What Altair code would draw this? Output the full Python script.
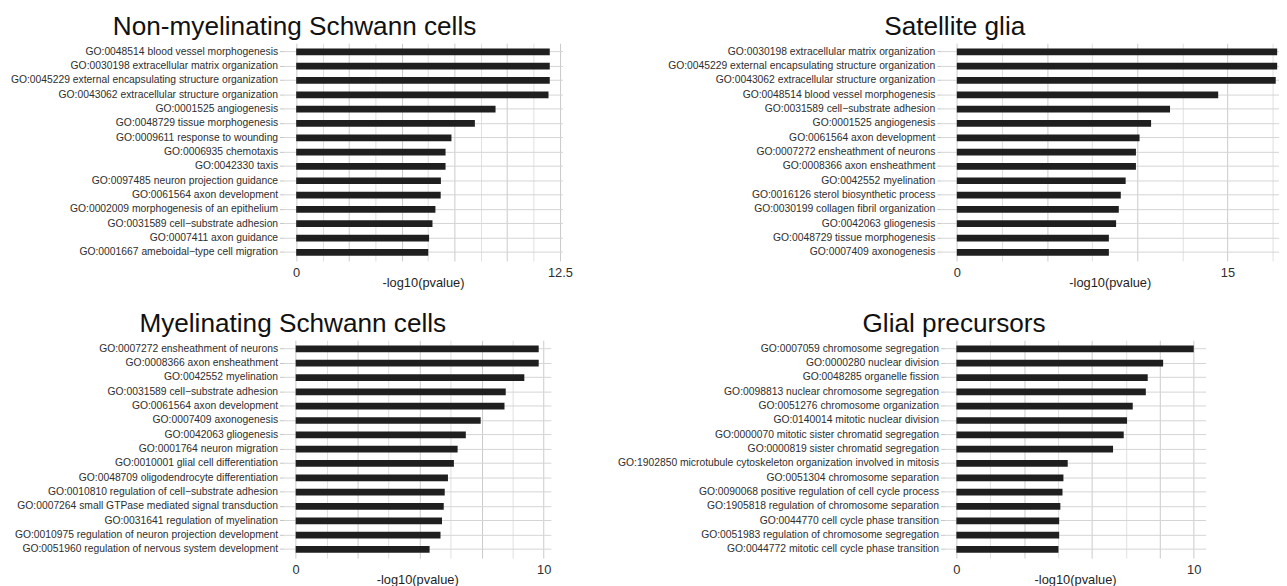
import altair as alt
import pandas as pd

FONT = "Liberation Sans"

# ---------------- data ----------------
nm_title = "Non-myelinating Schwann cells"
nm_terms = [
    "GO:0048514 blood vessel morphogenesis",
    "GO:0030198 extracellular matrix organization",
    "GO:0045229 external encapsulating structure organization",
    "GO:0043062 extracellular structure organization",
    "GO:0001525 angiogenesis",
    "GO:0048729 tissue morphogenesis",
    "GO:0009611 response to wounding",
    "GO:0006935 chemotaxis",
    "GO:0042330 taxis",
    "GO:0097485 neuron projection guidance",
    "GO:0061564 axon development",
    "GO:0002009 morphogenesis of an epithelium",
    "GO:0031589 cell\u2212substrate adhesion",
    "GO:0007411 axon guidance",
    "GO:0001667 ameboidal\u2212type cell migration",
]
nm_values = [12.02, 12.02, 12.02, 11.96, 9.45, 8.47, 7.36, 7.08, 7.08, 6.86, 6.85, 6.60, 6.46, 6.30, 6.26]
nm_ticks = [0, 12.5]
nm_tick_labels = ["0", "12.5"]

sg_title = "Satellite glia"
sg_terms = [
    "GO:0030198 extracellular matrix organization",
    "GO:0045229 external encapsulating structure organization",
    "GO:0043062 extracellular structure organization",
    "GO:0048514 blood vessel morphogenesis",
    "GO:0031589 cell\u2212substrate adhesion",
    "GO:0001525 angiogenesis",
    "GO:0061564 axon development",
    "GO:0007272 ensheathment of neurons",
    "GO:0008366 axon ensheathment",
    "GO:0042552 myelination",
    "GO:0016126 sterol biosynthetic process",
    "GO:0030199 collagen fibril organization",
    "GO:0042063 gliogenesis",
    "GO:0048729 tissue morphogenesis",
    "GO:0007409 axonogenesis",
]
sg_values = [17.76, 17.76, 17.68, 14.49, 11.82, 10.77, 10.13, 9.93, 9.93, 9.36, 9.09, 8.98, 8.83, 8.43, 8.43]
sg_ticks = [0, 15]
sg_tick_labels = ["0", "15"]

ms_title = "Myelinating Schwann cells"
ms_terms = [
    "GO:0007272 ensheathment of neurons",
    "GO:0008366 axon ensheathment",
    "GO:0042552 myelination",
    "GO:0031589 cell\u2212substrate adhesion",
    "GO:0061564 axon development",
    "GO:0007409 axonogenesis",
    "GO:0042063 gliogenesis",
    "GO:0001764 neuron migration",
    "GO:0010001 glial cell differentiation",
    "GO:0048709 oligodendrocyte differentiation",
    "GO:0010810 regulation of cell\u2212substrate adhesion",
    "GO:0007264 small GTPase mediated signal transduction",
    "GO:0031641 regulation of myelination",
    "GO:0010975 regulation of neuron projection development",
    "GO:0051960 regulation of nervous system development",
]
ms_values = [9.80, 9.80, 9.22, 8.47, 8.42, 7.46, 6.86, 6.53, 6.38, 6.14, 6.01, 5.97, 5.90, 5.84, 5.40]
ms_ticks = [0, 10]
ms_tick_labels = ["0", "10"]

gp_title = "Glial precursors"
gp_terms = [
    "GO:0007059 chromosome segregation",
    "GO:0000280 nuclear division",
    "GO:0048285 organelle fission",
    "GO:0098813 nuclear chromosome segregation",
    "GO:0051276 chromosome organization",
    "GO:0140014 mitotic nuclear division",
    "GO:0000070 mitotic sister chromatid segregation",
    "GO:0000819 sister chromatid segregation",
    "GO:1902850 microtubule cytoskeleton organization involved in mitosis",
    "GO:0051304 chromosome separation",
    "GO:0090068 positive regulation of cell cycle process",
    "GO:1905818 regulation of chromosome separation",
    "GO:0044770 cell cycle phase transition",
    "GO:0051983 regulation of chromosome segregation",
    "GO:0044772 mitotic cell cycle phase transition",
]
gp_values = [10.0, 8.71, 8.06, 7.98, 7.43, 7.19, 7.05, 6.60, 4.69, 4.51, 4.47, 4.38, 4.33, 4.33, 4.30]
gp_ticks = [0, 10]
gp_tick_labels = ["0", "10"]

# gridline positions (style)
nm_grid = [0, 1.25, 2.5, 3.75, 5, 6.25, 7.5, 8.75, 10, 11.25, 12.5]
nm_major = [0, 2.5, 5, 7.5, 10, 12.5]
sg_grid = [0, 2.5, 5, 7.5, 10, 12.5, 15, 17.5]
sg_major = [0, 5, 10, 15]
ms_grid = [0, 1.25, 2.5, 3.75, 5, 6.25, 7.5, 8.75, 10]
ms_major = [0, 2.5, 5, 7.5, 10]
gp_grid = [0, 1.4286, 2.8571, 4.2857, 5.7143, 7.1429, 8.5714, 10]
gp_major = [0, 2.8571, 5.7143, 8.5714, 10]


def label_expr(ticks, labels):
    expr = "''"
    for v, t in zip(reversed(ticks), reversed(labels)):
        expr = f"(abs(datum.value - {v}) < 1e-6 ? '{t}' : {expr})"
    return expr


def panel(title, terms, values, domain, grid, major, ticks, tick_labels,
          width, height, title_dx, extent=None):
    df = pd.DataFrame({"term": terms, "value": values})
    major_js = "[" + ",".join(str(m) for m in major) + "]"
    yaxis_kw = dict(
        title=None, labelFontSize=10.45, labelFont=FONT, labelColor="#2e2e2e",
        labelLimit=0, tickSize=4, tickColor="#c4c4c4", tickWidth=1,
        labelPadding=2, domain=False, grid=True, gridColor="#d4d4d4",
        gridWidth=1, bandPosition=0.5,
    )
    if extent is not None:
        yaxis_kw["minExtent"] = extent
        yaxis_kw["maxExtent"] = extent
    return alt.Chart(df).mark_bar(color="#1f1f1f").encode(
        x=alt.X(
            "value:Q",
            scale=alt.Scale(domain=domain, nice=False, zero=False),
            axis=alt.Axis(
                title="-log10(pvalue)", values=grid,
                labelExpr=label_expr(ticks, tick_labels),
                labelFontSize=13, labelFont=FONT, labelColor="#2e2e2e",
                labelPadding=6, ticks=False, domain=False, grid=True,
                labelOverlap=False, labelFlush=False,
                gridColor={"condition": {"test": f"indexof({major_js}, datum.value) >= 0",
                                         "value": "#cacaca"},
                           "value": "#e0e0e0"},
                gridWidth=1,
                titleFontSize=13, titleFont=FONT, titleFontWeight="normal",
                titleColor="#1e1e1e", titleY=21.5, titleBaseline="middle",
            ),
        ),
        y=alt.Y(
            "term:N", sort=terms,
            scale=alt.Scale(paddingInner=0.53, paddingOuter=0.365),
            axis=alt.Axis(**yaxis_kw),
        ),
    ).properties(
        width=width, height=height,
        title=alt.TitleParams(
            text=title, fontSize=26.5, font=FONT, fontWeight="normal",
            color="#111111", anchor="middle", frame="group", dx=title_dx,
            offset=-18.4, baseline="alphabetic",
        ),
    )


p1 = panel(nm_title, nm_terms, nm_values, [-0.6, 12.62], nm_grid, nm_major,
           nm_ticks, nm_tick_labels, 282.4, 220.5, -130, extent=275.3)
p2 = panel(sg_title, sg_terms, sg_values, [-0.89, 17.85], sg_grid, sg_major,
           sg_ticks, sg_tick_labels, 342.3, 220.5, -157)
p3 = panel(ms_title, ms_terms, ms_values, [-0.49, 10.29], ms_grid, ms_major,
           ms_ticks, ms_tick_labels, 270.7, 220.5, -126, extent=275.3)
p4 = panel(gp_title, gp_terms, gp_values, [-0.5, 10.5], gp_grid, gp_major,
           gp_ticks, gp_tick_labels, 264.4, 220.5, -122.5)

row1 = alt.hconcat(p1, p2, spacing=382.5, bounds="flush")
row2 = alt.hconcat(p3, p4, spacing=398.3, bounds="flush")

chart = alt.vconcat(row1, row2, spacing=21.8).properties(
    padding={"left": 2, "top": 2, "right": 0, "bottom": 0}
).configure(font=FONT).configure_view(stroke=None)

chart.save("out.html", embed_options={"renderer": "svg", "actions": False})
